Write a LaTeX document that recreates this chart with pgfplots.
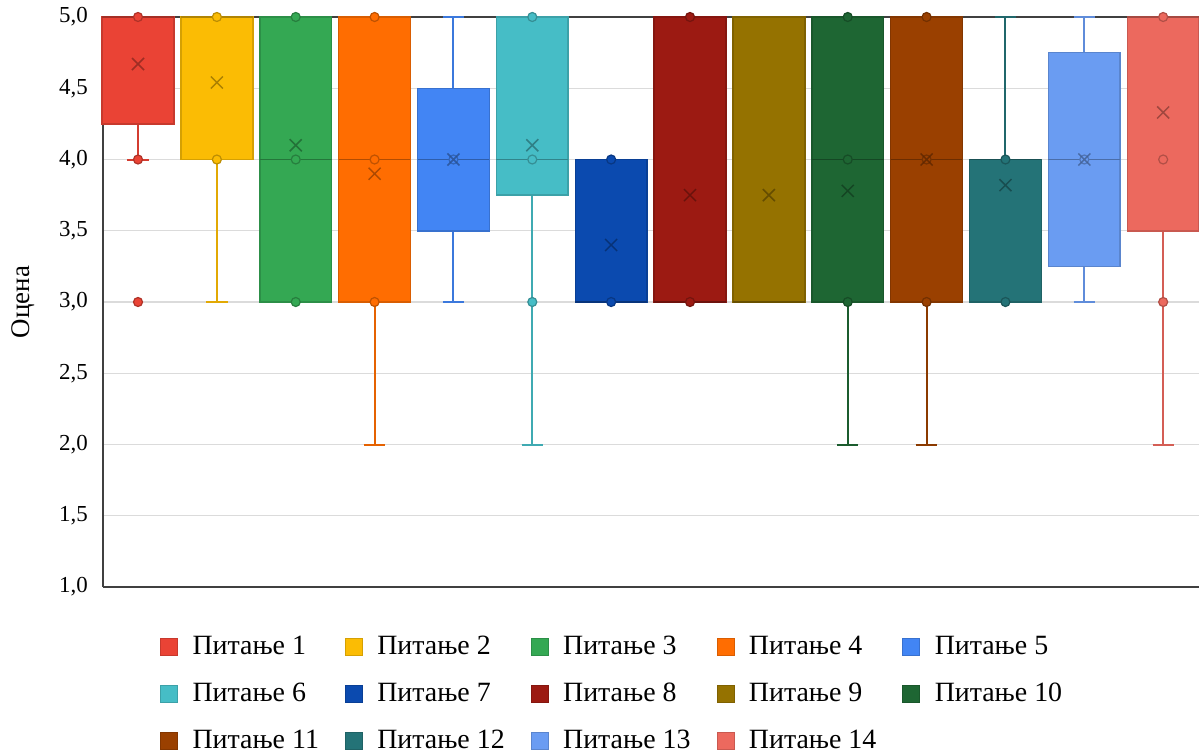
\documentclass[border=0pt]{standalone}
\usepackage{fontspec}
\setmainfont{Liberation Serif}
\usepackage{pgfplots}
\pgfplotsset{compat=1.18}
\usepgfplotslibrary{statistics}
\definecolor{c1}{HTML}{EA4335}
\definecolor{c2}{HTML}{FBBC04}
\definecolor{c3}{HTML}{34A853}
\definecolor{c4}{HTML}{FF6D01}
\definecolor{c5}{HTML}{4285F4}
\definecolor{c6}{HTML}{46BDC6}
\definecolor{c7}{HTML}{0B4AAF}
\definecolor{c8}{HTML}{9C1A12}
\definecolor{c9}{HTML}{957200}
\definecolor{c10}{HTML}{1E6633}
\definecolor{c11}{HTML}{9A4000}
\definecolor{c12}{HTML}{247377}
\definecolor{c13}{HTML}{6A9CF2}
\definecolor{c14}{HTML}{EC695E}
\pgfplotsset{
  bx/.style={forget plot, solid, mark=none, fill=#1, draw=#1!85!black, line width=1.5bp,
    boxplot/every median/.style={draw=#1!70!black, line width=1.5bp},
    boxplot/every whisker/.style={draw=#1!90!black, line width=2bp}},
  pts/.style={forget plot, only marks, mark=*, mark size=4.5bp, mark options={fill=#1, draw=#1!75!black, line width=1.2bp}},
  mn/.style={forget plot, only marks, mark=x, mark size=8.5bp, mark options={draw=#1!60!black, line width=1.5bp, opacity=0.8}},
}
\begin{document}
\begin{tikzpicture}
\begin{axis}[
  at={(103bp,-587bp)}, anchor=south west,
  scale only axis, width=1098bp, height=570bp,
  xmin=0.556, xmax=14.48, ymin=1, ymax=5,
  clip=false,
  axis x line*=box, axis y line*=left,
  axis line style={draw=black!75, line width=1.5bp},
  xtick=\empty,
  ytick={1,1.5,2,2.5,3,3.5,4,4.5,5},
  major tick length=0pt,
  ymajorgrids, grid style={draw=black!14, line width=1.2bp},
  /pgf/number format/assume math mode=true,
  yticklabel style={/pgf/number format/.cd, fixed, fixed zerofill, precision=1, use comma, /tikz/.cd,
     font=\fontsize{23}{26}\selectfont, anchor=east, inner sep=0pt, xshift=-15bp},
  ylabel={Оцена},
  every axis y label/.style={at={(axis description cs:-0.0729,0.5)}, rotate=90, anchor=center, font=\fontsize{27}{30}\selectfont},
  boxplot/draw direction=y,
  boxplot/box extend=0.91,
  boxplot/whisker extend=0.27,
  legend columns=5,
  legend cell align=left,
  legend image code/.code={\draw[#1] (0bp,-8.5bp) rectangle (17bp,8.5bp);},
  legend style={draw=none, fill=none, at={(axis description cs:0.0519,-0.086)}, anchor=north west,
     font=\fontsize{28}{32}\selectfont, inner sep=0pt, row sep=27bp,
     nodes={inner sep=0pt},
     /tikz/every odd column/.append style={column sep=15bp},
     /tikz/every even column/.append style={column sep=26bp}},
]
% 1
\addplot[bx=c1, boxplot prepared={lower whisker=4, lower quartile=4.25, median=5, upper quartile=5, upper whisker=5, draw position=1}] coordinates {};
\addplot[pts=c1] coordinates {(1,5) (1,4) (1,3)};
\addplot[mn=c1] coordinates {(1,4.67)};
% 2
\addplot[bx=c2, boxplot prepared={lower whisker=3, lower quartile=4, median=5, upper quartile=5, upper whisker=5, draw position=2}] coordinates {};
\addplot[pts=c2] coordinates {(2,5) (2,4)};
\addplot[mn=c2] coordinates {(2,4.54)};
% 3
\addplot[bx=c3, boxplot prepared={lower whisker=3, lower quartile=3, median=4, upper quartile=5, upper whisker=5, draw position=3}] coordinates {};
\addplot[pts=c3] coordinates {(3,5) (3,4) (3,3)};
\addplot[mn=c3] coordinates {(3,4.1)};
% 4
\addplot[bx=c4, boxplot prepared={lower whisker=2, lower quartile=3, median=4, upper quartile=5, upper whisker=5, draw position=4}] coordinates {};
\addplot[pts=c4] coordinates {(4,5) (4,4) (4,3)};
\addplot[mn=c4] coordinates {(4,3.9)};
% 5
\addplot[bx=c5, boxplot prepared={lower whisker=3, lower quartile=3.5, median=4, upper quartile=4.5, upper whisker=5, draw position=5}] coordinates {};
\addplot[pts=c5] coordinates {(5,4)};
\addplot[mn=c5] coordinates {(5,4.0)};
% 6
\addplot[bx=c6, boxplot prepared={lower whisker=2, lower quartile=3.75, median=4, upper quartile=5, upper whisker=5, draw position=6}] coordinates {};
\addplot[pts=c6] coordinates {(6,5) (6,4) (6,3)};
\addplot[mn=c6] coordinates {(6,4.1)};
% 7
\addplot[bx=c7, boxplot prepared={lower whisker=3, lower quartile=3, median=3, upper quartile=4, upper whisker=4, draw position=7}] coordinates {};
\addplot[pts=c7] coordinates {(7,4) (7,3)};
\addplot[mn=c7] coordinates {(7,3.4)};
% 8
\addplot[bx=c8, boxplot prepared={lower whisker=3, lower quartile=3, median=3, upper quartile=5, upper whisker=5, draw position=8}] coordinates {};
\addplot[pts=c8] coordinates {(8,5) (8,3)};
\addplot[mn=c8] coordinates {(8,3.75)};
% 9
\addplot[bx=c9, boxplot prepared={lower whisker=3, lower quartile=3, median=3, upper quartile=5, upper whisker=5, draw position=9}] coordinates {};
\addplot[mn=c9] coordinates {(9,3.75)};
% 10
\addplot[bx=c10, boxplot prepared={lower whisker=2, lower quartile=3, median=4, upper quartile=5, upper whisker=5, draw position=10}] coordinates {};
\addplot[pts=c10] coordinates {(10,5) (10,4) (10,3)};
\addplot[mn=c10] coordinates {(10,3.78)};
% 11
\addplot[bx=c11, boxplot prepared={lower whisker=2, lower quartile=3, median=4, upper quartile=5, upper whisker=5, draw position=11}] coordinates {};
\addplot[pts=c11] coordinates {(11,5) (11,4) (11,3)};
\addplot[mn=c11] coordinates {(11,4.0)};
% 12
\addplot[bx=c12, boxplot prepared={lower whisker=3, lower quartile=3, median=4, upper quartile=4, upper whisker=5, draw position=12}] coordinates {};
\addplot[pts=c12] coordinates {(12,4) (12,3)};
\addplot[mn=c12] coordinates {(12,3.82)};
% 13
\addplot[bx=c13, boxplot prepared={lower whisker=3, lower quartile=3.25, median=4, upper quartile=4.75, upper whisker=5, draw position=13}] coordinates {};
\addplot[pts=c13] coordinates {(13,4)};
\addplot[mn=c13] coordinates {(13,4.0)};
% 14
\addplot[bx=c14, boxplot prepared={lower whisker=2, lower quartile=3.5, median=5, upper quartile=5, upper whisker=5, draw position=14}] coordinates {};
\addplot[pts=c14] coordinates {(14,5) (14,4) (14,3)};
\addplot[mn=c14] coordinates {(14,4.33)};
% legend
\addlegendimage{fill=c1, draw=c1!85!black}\addlegendentry{Питање 1}
\addlegendimage{fill=c2, draw=c2!85!black}\addlegendentry{Питање 2}
\addlegendimage{fill=c3, draw=c3!85!black}\addlegendentry{Питање 3}
\addlegendimage{fill=c4, draw=c4!85!black}\addlegendentry{Питање 4}
\addlegendimage{fill=c5, draw=c5!85!black}\addlegendentry{Питање 5}
\addlegendimage{fill=c6, draw=c6!85!black}\addlegendentry{Питање 6}
\addlegendimage{fill=c7, draw=c7!85!black}\addlegendentry{Питање 7}
\addlegendimage{fill=c8, draw=c8!85!black}\addlegendentry{Питање 8}
\addlegendimage{fill=c9, draw=c9!85!black}\addlegendentry{Питање 9}
\addlegendimage{fill=c10, draw=c10!85!black}\addlegendentry{Питање 10}
\addlegendimage{fill=c11, draw=c11!85!black}\addlegendentry{Питање 11}
\addlegendimage{fill=c12, draw=c12!85!black}\addlegendentry{Питање 12}
\addlegendimage{fill=c13, draw=c13!85!black}\addlegendentry{Питање 13}
\addlegendimage{fill=c14, draw=c14!85!black}\addlegendentry{Питање 14}
\end{axis}
\pgfresetboundingbox
\useasboundingbox (0,0) rectangle (1199bp,-753bp);
\end{tikzpicture}
\end{document}
